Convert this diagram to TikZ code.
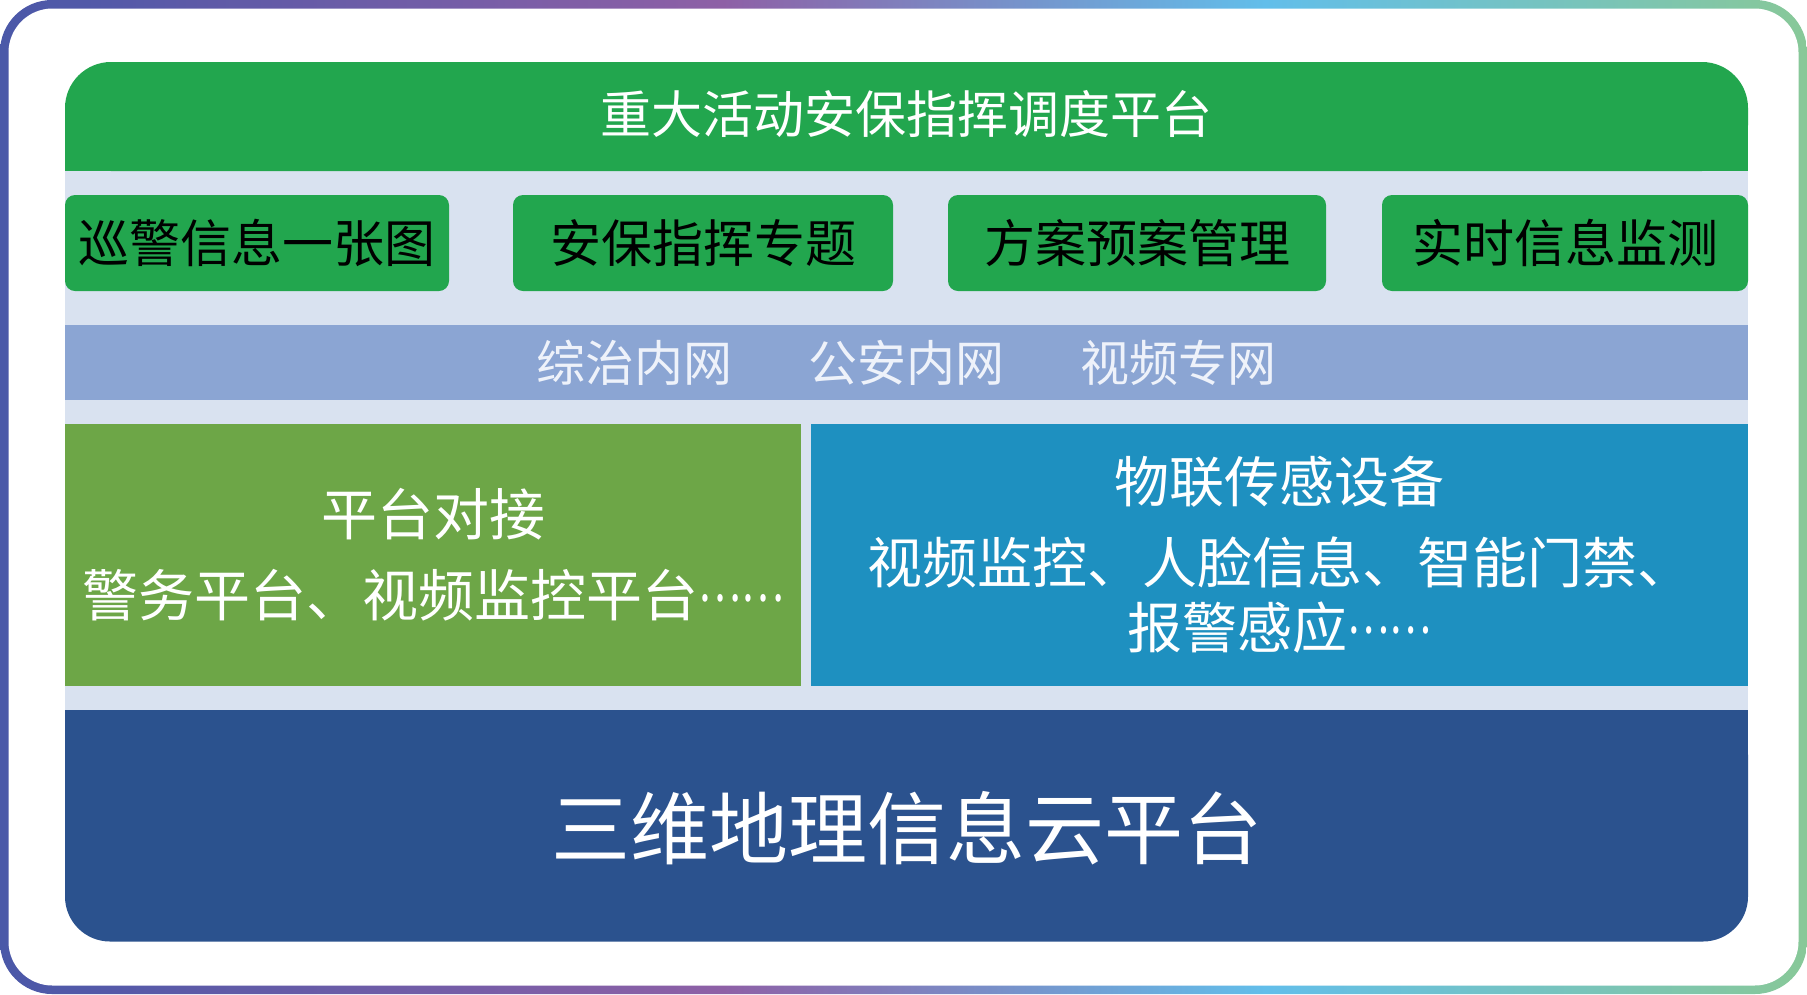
\documentclass[tikz,border=0pt]{standalone}
\usepackage{graphicx}
\usepackage{fontspec}
\newfontfamily\cjk{Noto Sans CJK SC}
\definecolor{framea}{HTML}{4A58A8}
\definecolor{frameb}{HTML}{8E60A6}
\definecolor{framec}{HTML}{62BEEA}
\definecolor{framed}{HTML}{88C898}
\definecolor{titlegreen}{HTML}{22A64E}
\definecolor{panelbg}{HTML}{D9E2F0}
\definecolor{netblue}{HTML}{8BA5D3}
\definecolor{netfont}{HTML}{EEF2FA}
\definecolor{linkgreen}{HTML}{6DA647}
\definecolor{iotblue}{HTML}{1E90C0}
\definecolor{basenavy}{HTML}{2B528E}
\pgfdeclarehorizontalshading{framegrad}{100bp}{color(0bp)=(framea); color(25bp)=(framea); color(45bp)=(frameb); color(60bp)=(framec); color(75bp)=(framed); color(100bp)=(framed)}
\newcommand{\moredots}{\raisebox{0.28em}{\scalebox{0.72}[1]{……}}}

\begin{document}
\begin{tikzpicture}[x=1pt,y=-1pt]
	\tikzstyle{box} = [rectangle, inner sep=0pt, text centered, align=center]
	\tikzstyle{module} = [box, rounded corners=10pt, fill=titlegreen, minimum height=96pt, font=\cjk\fontsize{51}{60}\selectfont, text=black]
	\tikzstyle{netbar} = [box, fill=netblue, minimum width=1683pt, minimum height=75pt, font=\cjk\fontsize{49}{60}\selectfont, text=netfont]
	\tikzstyle{layer} = [box, minimum height=262pt, font=\cjk\fontsize{55}{65}\selectfont, text=white]
	\useasboundingbox (0,0) rectangle (1807,994);
	% frame
	\shade[shading=framegrad, rounded corners=52pt] (0,0) rectangle (1807,994);
	\fill[white, rounded corners=44pt] (8.5,8.5) rectangle (1798.5,985.5);
	\fill[panelbg] (65,171) rectangle (1748,710);
	\fill[titlegreen, rounded corners=46pt] (65,62) rectangle (1748,171);
	\fill[titlegreen] (65,120) rectangle (1748,171);
	\fill[basenavy, rounded corners=45pt] (65,710) rectangle (1748,941.5);
	\fill[basenavy] (65,710) rectangle (1748,800);
	\node (title)[box, font=\cjk\fontsize{51}{60}\selectfont, text=white] at (906, 114) {重大活动安保指挥调度平台};
	\node (patrol)[module, minimum width=384pt] at (257, 243) {巡警信息一张图};
	\node (command)[module, minimum width=380pt] at (703, 243) {安保指挥专题};
	\node (plans)[module, minimum width=378pt] at (1137, 243) {方案预案管理};
	\node (monitor)[module, minimum width=366pt] at (1565, 243) {实时信息监测};
	\node (network)[netbar] at (906.5, 362.5) {综治内网\hspace*{76pt}公安内网\hspace*{76pt}视频专网};
	\node (docking)[layer, fill=linkgreen, minimum width=736pt, font=\cjk\fontsize{56}{81}\selectfont] at (433, 555) {平台对接\\警务平台、视频监控平台\moredots};
	\node (sensors)[layer, fill=iotblue, minimum width=937pt] at (1279.5, 555) {物联传感设备\\[16pt]视频监控、人脸信息、智能门禁、\\报警感应\moredots};
	\node (cloud)[box, font=\cjk\fontsize{79}{90}\selectfont, text=white] at (907, 828) {三维地理信息云平台};
\end{tikzpicture}
\end{document}
